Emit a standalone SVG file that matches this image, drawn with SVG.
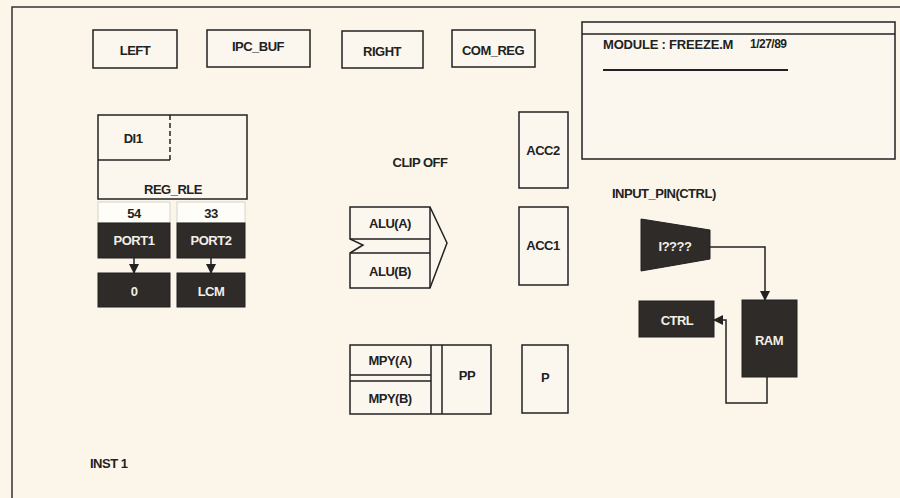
<svg xmlns="http://www.w3.org/2000/svg" width="900" height="498" viewBox="0 0 900 498">
<style>
.t{font-family:"Liberation Sans",Arial,sans-serif;font-weight:bold;font-size:13px;fill:#222;text-anchor:middle;dominant-baseline:central;letter-spacing:-0.5px}
.bx{fill:#fcf7ee;stroke:#222;stroke-width:1.5}
.dk{fill:#2f2b29;stroke:#222;stroke-width:1}
.lt{fill:#fffdf8;stroke:#d8d4cc;stroke-width:1}
.ln{fill:none;stroke:#222;stroke-width:1.5}
.wt{fill:#f2efe8}
</style>
<defs>
<marker id="ah" markerWidth="10" markerHeight="10" refX="9" refY="5" orient="auto" markerUnits="userSpaceOnUse">
<path d="M0,0 L10,5 L0,10 Z" fill="#222"/>
</marker>
</defs>
<rect x="0" y="0" width="900" height="498" fill="#fbf5ea"/>
<g id="frame">
<path d="M12,498 L12,7 L900,7" fill="none" stroke="#333" stroke-width="1.5"/>
</g>
<g id="left"><rect class="bx" x="93" y="30" width="84" height="38"/><text class="t" x="135" y="50">LEFT</text></g>
<g id="ipc_buf"><rect class="bx" x="207" y="30" width="103" height="37"/><text class="t" x="258" y="46">IPC_BUF</text></g>
<g id="right"><rect class="bx" x="342" y="31" width="81" height="37"/><text class="t" x="382" y="51">RIGHT</text></g>
<g id="com_reg"><rect class="bx" x="452" y="30" width="83" height="37"/><text class="t" x="493" y="50">COM_REG</text></g>
<g id="module">
<rect class="bx" x="582" y="22" width="313" height="137"/>
<line class="ln" x1="582" y1="34" x2="895" y2="34"/>
<text class="t" x="603" y="44" style="text-anchor:start;letter-spacing:-0.2px">MODULE : FREEZE.M</text>
<text class="t" x="750" y="44" style="text-anchor:start;font-size:12px">1/27/89</text>
<line x1="603" y1="70" x2="788" y2="70" stroke="#222" stroke-width="2.2"/>
</g>
<g id="reg_rle">
<rect class="bx" x="98" y="115" width="149" height="84"/>
<path d="M98,160 L170,160" class="ln"/>
<path d="M170,115 L170,160" class="ln" stroke-dasharray="5,3"/>
<text class="t" x="133" y="138">DI1</text>
<text class="t" x="173" y="189">REG_RLE</text>
</g>
<g id="port1">
<rect class="lt" x="98" y="202" width="72" height="21"/>
<text class="t" x="134" y="213">54</text>
<rect class="dk" x="98" y="223" width="72" height="35"/>
<text class="t wt" x="134" y="240">PORT1</text>
</g>
<g id="port2">
<rect class="lt" x="177" y="202" width="68" height="21"/>
<text class="t" x="211" y="213">33</text>
<rect class="dk" x="177" y="223" width="68" height="35"/>
<text class="t wt" x="211" y="240">PORT2</text>
</g>
<g id="zero"><rect class="dk" x="98" y="273" width="72" height="34"/><text class="t wt" x="134" y="291">0</text></g>
<g id="lcm"><rect class="dk" x="177" y="273" width="68" height="34"/><text class="t wt" x="211" y="291">LCM</text></g>
<g id="clip_off"><text class="t" x="420" y="162">CLIP OFF</text></g>
<g id="acc2"><rect class="bx" x="519" y="112" width="49" height="76"/><text class="t" x="543" y="150">ACC2</text></g>
<g id="acc1"><rect class="bx" x="519" y="207" width="49" height="78"/><text class="t" x="543" y="245">ACC1</text></g>
<g id="alu">
<path class="bx" d="M350,207 L430,207 L447,243 L430,288 L350,288 L350,253 L363,245 L350,239 Z"/>
<path class="ln" d="M350,239 L430,239 M350,253 L430,253 M430,207 L430,288"/>
<text class="t" x="390" y="223">ALU(A)</text>
<text class="t" x="390" y="271">ALU(B)</text>
</g>
<g id="mpy">
<rect class="bx" x="350" y="345" width="141" height="69"/>
<path class="ln" d="M350,375 L431,375 M350,381 L431,381 M431,345 L431,414 M442,345 L442,414"/>
<text class="t" x="390" y="360">MPY(A)</text>
<text class="t" x="390" y="398">MPY(B)</text>
<text class="t" x="467" y="375">PP</text>
</g>
<g id="p"><rect class="bx" x="522" y="345" width="46" height="68"/><text class="t" x="545" y="377">P</text></g>
<g id="input_pin"><text class="t" x="612" y="193" style="text-anchor:start">INPUT_PIN(CTRL)</text></g>
<g id="i4q"><path class="dk" d="M641,219 L710,230 L710,259 L641,271 Z"/><text class="t wt" x="675" y="246">I????</text></g>
<g id="ctrl"><rect class="dk" x="639" y="301" width="75" height="36"/><text class="t wt" x="677" y="320">CTRL</text></g>
<g id="ram"><rect class="dk" x="742" y="300" width="55" height="77"/><text class="t wt" x="769" y="340">RAM</text></g>
<g id="inst1"><text class="t" x="90" y="463" style="text-anchor:start">INST 1</text></g>
<g id="connectors">
<line class="ln" x1="134" y1="258" x2="134" y2="273" marker-end="url(#ah)"/>
<line class="ln" x1="211" y1="258" x2="211" y2="273" marker-end="url(#ah)"/>
<path class="ln" d="M710,247 L765,247 L765,300" marker-end="url(#ah)"/>
<path class="ln" d="M767,377 L767,403 L726,403 L726,320 L714,320" marker-end="url(#ah)"/>
</g>
</svg>
